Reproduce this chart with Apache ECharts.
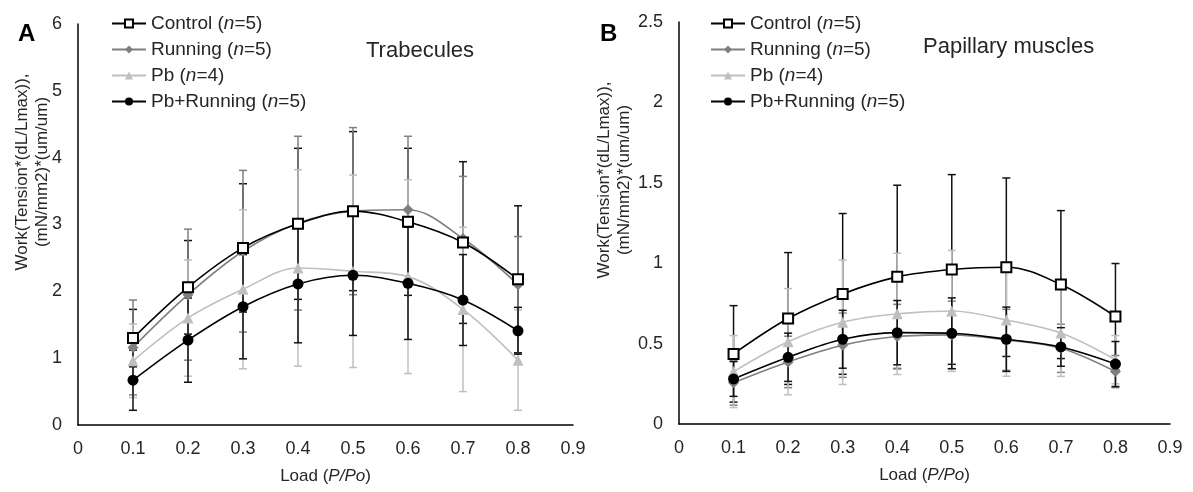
<!DOCTYPE html>
<html>
<head>
<meta charset="utf-8">
<script src="https://cdn.jsdelivr.net/npm/echarts@6/dist/echarts.min.js"></script>
<style>
  html, body { margin: 0; padding: 0; background: #fff; }
  #chart { width: 1193px; height: 492px; }
</style>
</head>
<body>
<div id="chart"></div>
<script>
// load points (P/Po)
const loads = [0.1, 0.2, 0.3, 0.4, 0.5, 0.6, 0.7, 0.8]

// A: trabecules
const trabControl = [1.30, 2.06, 2.65, 3.01, 3.20, 3.04, 2.73, 2.18]
const trabControlErr = [0.43, 0.70, 0.96, 1.13, 1.19, 1.10, 1.21, 1.10]
const trabRunning = [1.16, 1.95, 2.60, 3.02, 3.20, 3.22, 2.79, 2.10]
const trabRunningErr = [0.71, 0.98, 1.21, 1.30, 1.25, 1.10, 0.93, 0.72]
const trabPb = [0.96, 1.60, 2.03, 2.35, 2.30, 2.22, 1.73, 0.97]
const trabPbErr = [0.55, 0.87, 1.19, 1.47, 1.44, 1.45, 1.23, 0.75]
const trabPbRun = [0.67, 1.27, 1.77, 2.11, 2.24, 2.12, 1.87, 1.41]
const trabPbRunErr = [0.45, 0.63, 0.78, 0.88, 0.90, 0.84, 0.68, 0.35]

// B: papillary muscles
const papControl = [0.436, 0.656, 0.809, 0.915, 0.961, 0.975, 0.867, 0.668]
const papControlErr = [0.30, 0.41, 0.50, 0.57, 0.59, 0.555, 0.46, 0.33]
const papRunning = [0.257, 0.386, 0.49, 0.544, 0.554, 0.523, 0.471, 0.326]
const papRunningErr = [0.14, 0.16, 0.20, 0.20, 0.21, 0.19, 0.15, 0.10]
const papPb = [0.326, 0.512, 0.633, 0.685, 0.703, 0.647, 0.566, 0.40]
const papPbErr = [0.224, 0.33, 0.387, 0.377, 0.376, 0.35, 0.27, 0.15]
const papPbRun = [0.28, 0.415, 0.527, 0.568, 0.564, 0.527, 0.479, 0.373]
const papPbRunErr = [0.108, 0.15, 0.18, 0.20, 0.22, 0.20, 0.12, 0.14]

const groups = ['Control', 'Running', 'Pb', 'Pb+Running']
const groupN = [5, 5, 4, 5]
const yName = 'Work(Tension*(dL/Lmax)),\n(mN/mm2)*(um/um)'

const font = 'Liberation Sans, Arial, sans-serif'
const textColor = '#262626'

// look of each group
const looks = {
  'Control': { color: '#000', symbol: 'rect', size: 10, fill: '#fff', err: '#111' },
  'Running': { color: '#7f7f7f', symbol: 'diamond', size: 11, fill: '#7f7f7f', err: '#7f7f7f' },
  'Pb': { color: '#bfbfbf', symbol: 'triangle', size: 11, fill: '#bfbfbf', err: '#bfbfbf' },
  'Pb+Running': { color: '#000', symbol: 'circle', size: 11, fill: '#000', err: '#111' }
}

function errorSeries (name, values, errs, axisIndex) {
  const lk = looks[name]
  return {
    type: 'custom',
    name: name + ' err',
    xAxisIndex: axisIndex,
    yAxisIndex: axisIndex,
    z: 1,
    silent: true,
    data: loads.map((x, i) => [x, values[i], errs[i]]),
    renderItem: (params, api) => {
      const x = api.value(0)
      const y = api.value(1)
      const e = api.value(2)
      const top = api.coord([x, y + e])
      const bot = api.coord([x, y - e])
      const w = 4
      const style = { stroke: lk.err, lineWidth: 1.5 }
      return {
        type: 'group',
        children: [
          { type: 'line', shape: { x1: top[0], y1: top[1], x2: bot[0], y2: bot[1] }, style },
          { type: 'line', shape: { x1: top[0] - w, y1: top[1], x2: top[0] + w, y2: top[1] }, style },
          { type: 'line', shape: { x1: bot[0] - w, y1: bot[1], x2: bot[0] + w, y2: bot[1] }, style }
        ]
      }
    }
  }
}

function lineSeries (name, values, axisIndex) {
  const lk = looks[name]
  return {
    type: 'line',
    name: name,
    xAxisIndex: axisIndex,
    yAxisIndex: axisIndex,
    z: 3,
    smooth: 0.35,
    data: loads.map((x, i) => [x, values[i]]),
    symbol: lk.symbol,
    symbolSize: lk.size,
    lineStyle: { color: lk.color, width: 1.6 },
    itemStyle: { color: lk.fill, borderColor: lk.color, borderWidth: name === 'Control' ? 2 : 0 }
  }
}

const legendCommon = {
  orient: 'vertical',
  padding: 0,
  itemWidth: 34,
  itemHeight: 10,
  itemGap: 7,
  data: groups,
  textStyle: {
    fontFamily: font,
    fontSize: 19,
    color: textColor,
    rich: {
      a: { fontFamily: font, fontSize: 19, color: textColor },
      i: { fontFamily: font, fontSize: 19, color: textColor, fontStyle: 'italic' }
    }
  },
  formatter: (name) => `{a|${name} (}{i|n}{a|=${groupN[groups.indexOf(name)]})}`
}

function xAxis (gridIndex) {
  return {
    type: 'value',
    gridIndex,
    min: 0,
    max: 0.9,
    interval: 0.1,
    name: '{a|Load (}{i|P/Po}{a|)}',
    nameLocation: 'middle',
    nameGap: 43,
    nameTextStyle: {
      rich: {
        a: { fontFamily: font, fontSize: 17, color: textColor },
        i: { fontFamily: font, fontSize: 17, color: textColor, fontStyle: 'italic' }
      }
    },
    axisLine: { show: true, lineStyle: { color: '#000', width: 1.5 } },
    axisTick: { show: false },
    splitLine: { show: false },
    axisLabel: { fontFamily: font, fontSize: 18, color: textColor, margin: 15 }
  }
}

function yAxis (gridIndex, max, interval) {
  return {
    type: 'value',
    gridIndex,
    min: 0,
    max,
    interval,
    axisLine: { show: true, lineStyle: { color: '#000', width: 1.5 } },
    axisTick: { show: false },
    splitLine: { show: false },
    axisLabel: { fontFamily: font, fontSize: 18, color: textColor, margin: 16 }
  }
}

function yTitle (x, y) {
  return {
    type: 'text',
    x,
    y,
    rotation: Math.PI / 2,
    style: {
      text: yName,
      font: '17px ' + font,
      fill: textColor,
      align: 'center',
      verticalAlign: 'middle',
      lineHeight: 20
    }
  }
}

const chart = echarts.init(document.getElementById('chart'))
chart.setOption({
  animation: false,
  backgroundColor: '#fff',
  title: [
    { text: 'A', left: 13, top: 17, textStyle: { fontFamily: font, fontSize: 24, fontWeight: 'bold', color: '#000' } },
    { text: 'B', left: 595, top: 17, textStyle: { fontFamily: font, fontSize: 24, fontWeight: 'bold', color: '#000' } },
    { text: 'Trabecules', left: 361, top: 35, textStyle: { fontFamily: font, fontSize: 22, fontWeight: 'normal', color: textColor } },
    { text: 'Papillary muscles', left: 918, top: 31, textStyle: { fontFamily: font, fontSize: 22, fontWeight: 'normal', color: textColor } }
  ],
  graphic: [yTitle(32, 172), yTitle(614, 180)],
  legend: [
    Object.assign({ left: 111, top: 14 }, legendCommon),
    Object.assign({ left: 710, top: 14 }, legendCommon)
  ],
  grid: [
    { left: 78, right: 620, top: 24, bottom: 67 },
    { left: 679, right: 23, top: 22, bottom: 68 }
  ],
  xAxis: [xAxis(0), xAxis(1)],
  yAxis: [yAxis(0, 6, 1), yAxis(1, 2.5, 0.5)],
  series: [
    errorSeries('Control', trabControl, trabControlErr, 0),
    errorSeries('Running', trabRunning, trabRunningErr, 0),
    errorSeries('Pb', trabPb, trabPbErr, 0),
    errorSeries('Pb+Running', trabPbRun, trabPbRunErr, 0),
    errorSeries('Control', papControl, papControlErr, 1),
    errorSeries('Running', papRunning, papRunningErr, 1),
    errorSeries('Pb', papPb, papPbErr, 1),
    errorSeries('Pb+Running', papPbRun, papPbRunErr, 1),
    lineSeries('Pb', trabPb, 0),
    lineSeries('Running', trabRunning, 0),
    lineSeries('Control', trabControl, 0),
    lineSeries('Pb+Running', trabPbRun, 0),
    lineSeries('Pb', papPb, 1),
    lineSeries('Running', papRunning, 1),
    lineSeries('Pb+Running', papPbRun, 1),
    lineSeries('Control', papControl, 1)
  ]
})
</script>
</body>
</html>
